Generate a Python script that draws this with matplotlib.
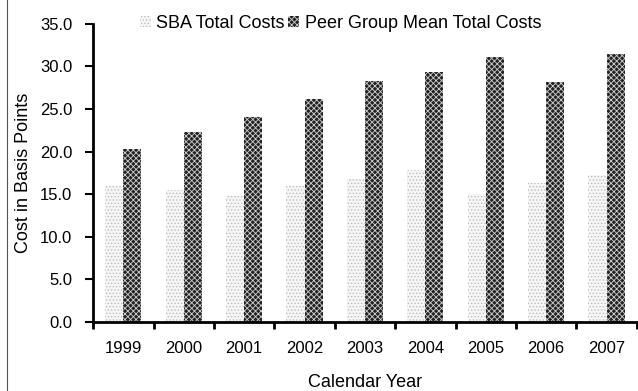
import matplotlib
matplotlib.use("Agg")
import matplotlib.pyplot as plt
import numpy as np
from matplotlib.lines import Line2D

years = ["1999", "2000", "2001", "2002", "2003", "2004", "2005", "2006", "2007"]
sba_costs = [16.0, 15.5, 14.8, 16.0, 16.8, 17.8, 15.0, 16.3, 17.3]
peer_costs = [20.3, 22.3, 24.0, 26.2, 28.3, 29.3, 31.1, 28.2, 31.5]

plt.rcParams['font.family'] = ['Liberation Sans', 'DejaVu Sans']
plt.rcParams['hatch.linewidth'] = 0.6

fig = plt.figure(figsize=(6.38, 3.91), dpi=100)
ax = fig.add_axes([0.146, 0.177, 0.852, 0.762])

x = np.arange(len(years))
w = 0.3

# SBA bars: faint stipple
ax.bar(x - w / 2, sba_costs, w, color='#f6f6f6', edgecolor='#bcbcbc',
       hatch='.....', linewidth=0, label='SBA Total Costs')
# peer group bars: dark checker pattern
ax.bar(x + w / 2, peer_costs, w, color='#222222', edgecolor='#d0d0d0',
       hatch='xxxxxx', linewidth=0, label='Peer Group Mean Total Costs')

ax.set_xlim(-0.5, len(years) - 0.5)
ax.set_ylim(0, 35)
ax.set_yticks(np.arange(0, 35.1, 5))
ax.set_yticklabels([f"{v:.1f}" for v in np.arange(0, 35.1, 5)], fontsize=12)
ax.set_xticks(x)
ax.set_xticklabels(years, fontsize=12)
ax.set_xticks(np.arange(-0.5, len(years)), minor=True)
ax.tick_params(axis='x', which='major', length=0, pad=14)
ax.tick_params(axis='x', which='minor', length=5, width=2, direction='out')
ax.tick_params(axis='y', length=6, width=1.5, direction='out', pad=9)

for s in ['top', 'right']:
    ax.spines[s].set_visible(False)
for s in ['left', 'bottom']:
    ax.spines[s].set_linewidth(2)

ax.set_ylabel("Cost in Basis Points", fontsize=13, labelpad=6)
ax.set_xlabel("Calendar Year", fontsize=13, labelpad=13)

ax.legend(loc='upper center', bbox_to_anchor=(0.455, 1.085), ncol=2,
          frameon=False, fontsize=13, handlelength=0.6, handleheight=0.6,
          handletextpad=0.3, columnspacing=0.2)

fig.add_artist(Line2D([0.011, 0.011], [0, 1], color='#555555', lw=0.8))

fig.savefig("out.png", dpi=100)
